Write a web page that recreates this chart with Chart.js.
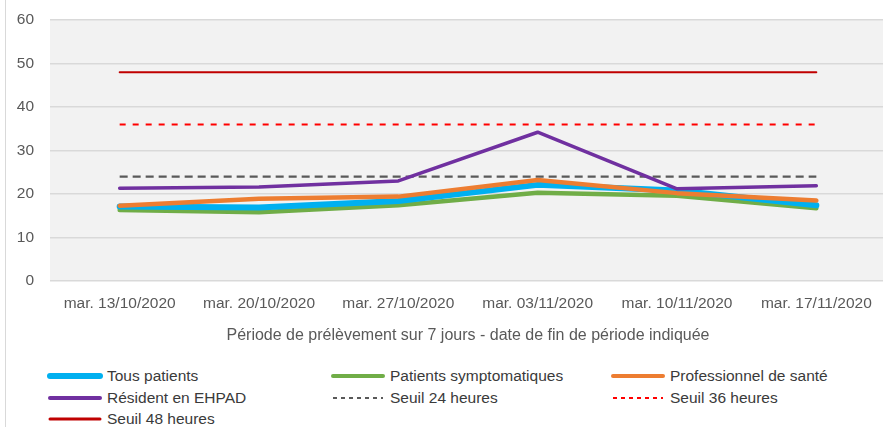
<!DOCTYPE html>
<html>
<head>
<meta charset="utf-8">
<script src="https://cdn.jsdelivr.net/npm/chart.js@4/dist/chart.umd.min.js"></script>
<style>
  body { margin: 0; background: #fff; }
  #wrap { position: relative; width: 883px; height: 427px; overflow: hidden; font-family: "Liberation Sans", Arial, sans-serif; }
  #chartBox { position: absolute; left: 0; top: 0; width: 886px; height: 345px; }
  #edge { position: absolute; left: 5px; top: 0; width: 1px; height: 427px; background: #d9d9d9; }
  .item { position: absolute; height: 20px; display: flex; align-items: center; font-size: 15.5px; color: #3a3a3a; white-space: nowrap; }
  .item canvas { margin-right: 4px; }
</style>
</head>
<body>
<div id="wrap">
  <div id="edge"></div>
  <div id="chartBox"><canvas id="delayChart"></canvas></div>
  <div id="legend"></div>
</div>
<script>
// data
const categories = ["mar. 13/10/2020", "mar. 20/10/2020", "mar. 27/10/2020", "mar. 03/11/2020", "mar. 10/11/2020", "mar. 17/11/2020"];
const tousPatients = [17.1, 16.9, 18.4, 22.1, 20.8, 17.4];
const patientsSympto = [16.3, 15.8, 17.4, 20.3, 19.6, 16.7];
const proSante = [17.3, 18.9, 19.4, 23.2, 20.2, 18.5];
const residentEhpad = [21.3, 21.6, 23.0, 34.2, 21.2, 21.9];
const seuil24 = [24, 24, 24, 24, 24, 24];
const seuil36 = [36, 36, 36, 36, 36, 36];
const seuil48 = [48, 48, 48, 48, 48, 48];
const yTicks = [0, 10, 20, 30, 40, 50, 60];

const datasets = [
  { label: "Tous patients", data: tousPatients, borderColor: "#00B0F0", borderWidth: 6, order: 3, legendWidth: 6 },
  { label: "Patients symptomatiques", data: patientsSympto, borderColor: "#70AD47", borderWidth: 4.5, order: 4, legendWidth: 4 },
  { label: "Professionnel de santé", data: proSante, borderColor: "#ED7D31", borderWidth: 4.5, order: 2, legendWidth: 4 },
  { label: "Résident en EHPAD", data: residentEhpad, borderColor: "#7030A0", borderWidth: 3.5, order: 1, legendWidth: 4 },
  { label: "Seuil 24 heures", data: seuil24, borderColor: "#595959", borderWidth: 2.2, borderDash: [8, 5], order: 5, legendWidth: 2, legendDash: [4, 4] },
  { label: "Seuil 36 heures", data: seuil36, borderColor: "#FF0000", borderWidth: 2, borderDash: [6, 7], order: 6, legendWidth: 2, legendDash: [4, 4] },
  { label: "Seuil 48 heures", data: seuil48, borderColor: "#C00000", borderWidth: 2, order: 7, legendWidth: 3 }
];
datasets.forEach(d => {
  d.pointRadius = 0;
  d.tension = 0;
  d.fill = false;
  d.borderCapStyle = d.borderDash ? "butt" : "round";
  d.borderJoinStyle = "round";
});

// grey plot area
const plotBg = {
  id: "plotBg",
  beforeDraw(chart) {
    const a = chart.chartArea, c = chart.ctx;
    c.save();
    c.fillStyle = "#F2F2F2";
    c.fillRect(a.left, a.top, a.right - a.left, a.bottom - a.top);
    c.restore();
  }
};

new Chart(document.getElementById("delayChart"), {
  type: "line",
  data: { labels: categories, datasets: datasets },
  plugins: [plotBg],
  options: {
    responsive: true,
    maintainAspectRatio: false,
    animation: false,
    layout: { padding: { top: 20, left: 0, right: 0, bottom: 0 } },
    plugins: { legend: { display: false }, tooltip: { enabled: false } },
    scales: {
      x: {
        offset: true,
        grid: { display: false },
        border: { display: false },
        ticks: { color: "#595959", font: { family: "Liberation Sans", size: 15.5 }, padding: 5, maxRotation: 0 },
        title: { display: true, text: "Période de prélèvement sur 7 jours - date de fin de période indiquée", color: "#595959", font: { family: "Liberation Sans", size: 16 }, padding: { top: 4, bottom: 0 } },
        afterFit(scale) { scale.height = 64; scale.paddingLeft = 0; scale.paddingRight = 0; }
      },
      y: {
        min: 0, max: 60,
        afterBuildTicks(scale) { scale.ticks = yTicks.map(v => ({ value: v })); },
        grid: { color: "#D9D9D9", lineWidth: 1.5, drawTicks: false },
        border: { display: false },
        ticks: { color: "#595959", font: { family: "Liberation Sans", size: 15.5 }, padding: 16 },
        afterFit(scale) { scale.width = 50; scale.paddingTop = 0; scale.paddingBottom = 0; }
      }
    }
  }
});

// legend in three columns
const cols = [47, 330, 610];
const rows = [376, 398, 419];
const legend = document.getElementById("legend");
datasets.forEach((d, i) => {
  const item = document.createElement("div");
  item.className = "item";
  item.style.left = cols[i % 3] + "px";
  item.style.top = (rows[Math.floor(i / 3)] - 10) + "px";
  const cv = document.createElement("canvas");
  cv.width = 56; cv.height = 10;
  const c = cv.getContext("2d");
  c.strokeStyle = d.borderColor;
  c.lineWidth = d.legendWidth;
  c.lineCap = d.legendDash ? "butt" : "round";
  if (d.legendDash) c.setLineDash(d.legendDash);
  c.beginPath();
  c.moveTo(3, 5);
  c.lineTo(53, 5);
  c.stroke();
  item.appendChild(cv);
  const span = document.createElement("span");
  span.textContent = d.label;
  item.appendChild(span);
  legend.appendChild(item);
});
</script>
</body>
</html>
